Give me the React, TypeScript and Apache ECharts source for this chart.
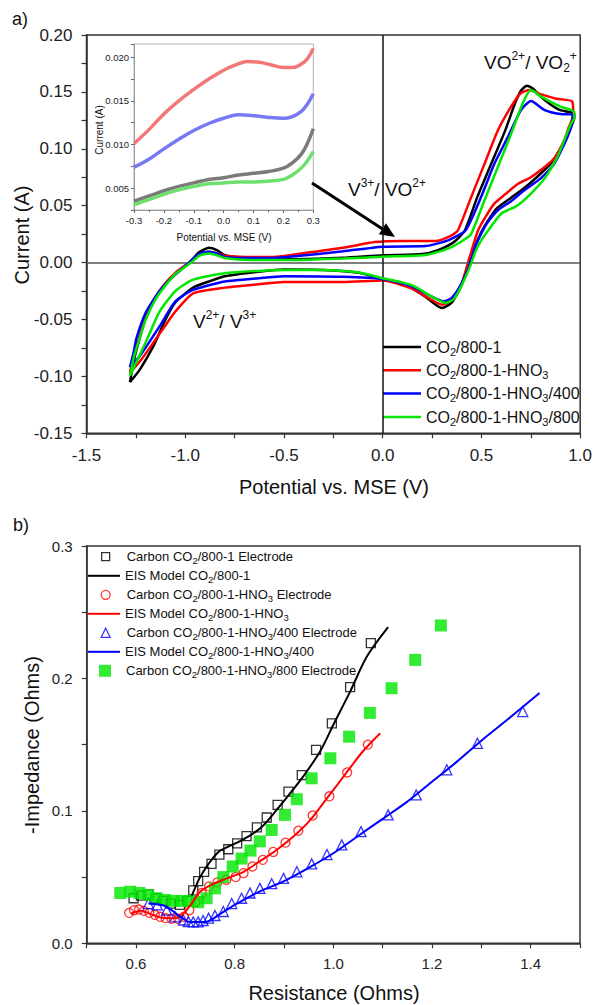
import React, { useEffect, useRef } from "react";
import * as echarts from "echarts";

const FONT = "'Liberation Sans', Arial, Helvetica, sans-serif";

// ---------- (a) cyclic voltammetry loops: [potential V, current A] ----------
const cvNames = ["CO2/800-1", "CO2/800-1-HNO3", "CO2/800-1-HNO3/400", "CO2/800-1-HNO3/800"];
const cvColors = ["#000000", "#ff0000", "#0000ff", "#00e600"];

const cvBlack = [
  [-1.28, -0.105], [-1.26, -0.086], [-1.23, -0.066], [-1.2, -0.049], [-1.15, -0.031], [-1.1, -0.019], [-1.05, -0.01],
  [-0.98, 0.0], [-0.93, 0.009], [-0.88, 0.013], [-0.84, 0.011], [-0.8, 0.0065], [-0.72, 0.0045], [-0.6, 0.0035],
  [-0.43, 0.003], [-0.2, 0.0042], [0.0, 0.0064], [0.2, 0.0075], [0.28, 0.011], [0.36, 0.018], [0.415, 0.028],
  [0.48, 0.058], [0.55, 0.087], [0.62, 0.116], [0.67, 0.14], [0.7, 0.151], [0.73, 0.1555], [0.76, 0.153],
  [0.8, 0.146], [0.85, 0.139], [0.9, 0.134], [0.97, 0.131],
  [0.97, 0.127], [0.95, 0.118], [0.9, 0.1], [0.85, 0.087], [0.78, 0.075], [0.72, 0.066], [0.65, 0.057],
  [0.58, 0.048], [0.53, 0.036], [0.5, 0.027], [0.47, 0.015], [0.436, 0.0], [0.4, -0.0195], [0.35, -0.035],
  [0.3, -0.04], [0.26, -0.036], [0.216, -0.03], [0.115, -0.0195], [0.0, -0.0145], [-0.12, -0.009], [-0.3, -0.0064],
  [-0.5, -0.006], [-0.63, -0.008], [-0.8, -0.012], [-0.88, -0.0166], [-0.96, -0.022], [-1.05, -0.035],
  [-1.1, -0.05], [-1.16, -0.073], [-1.23, -0.094], [-1.28, -0.105],
];
const cvRed = [
  [-1.28, -0.097], [-1.26, -0.08], [-1.23, -0.064], [-1.2, -0.046], [-1.15, -0.03], [-1.1, -0.018], [-1.05, -0.009],
  [-0.98, 0.0], [-0.93, 0.007], [-0.88, 0.0095], [-0.84, 0.008], [-0.8, 0.006], [-0.7, 0.005], [-0.55, 0.005],
  [-0.43, 0.0076], [-0.2, 0.013], [-0.04, 0.018], [0.1, 0.019], [0.267, 0.019], [0.35, 0.024], [0.381, 0.0284],
  [0.449, 0.058], [0.516, 0.087], [0.583, 0.116], [0.65, 0.137], [0.7, 0.149], [0.743, 0.1516], [0.8, 0.148],
  [0.88, 0.144], [0.96, 0.1416],
  [0.965, 0.13], [0.94, 0.118], [0.92, 0.1076], [0.87, 0.092], [0.82, 0.084], [0.75, 0.075], [0.684, 0.069],
  [0.62, 0.06], [0.566, 0.052], [0.52, 0.04], [0.482, 0.028], [0.432, 0.0], [0.4, -0.018], [0.35, -0.033],
  [0.3, -0.037], [0.25, -0.033], [0.15, -0.023], [0.0, -0.0157], [-0.2, -0.017], [-0.5, -0.017], [-0.63, -0.019],
  [-0.8, -0.022], [-0.96, -0.027], [-1.05, -0.043], [-1.1, -0.055], [-1.16, -0.07], [-1.23, -0.087], [-1.28, -0.097],
];
const cvBlue = [
  [-1.28, -0.092], [-1.26, -0.078], [-1.248, -0.067], [-1.2, -0.044], [-1.13, -0.025], [-1.06, -0.012],
  [-0.98, 0.0], [-0.93, 0.0075], [-0.88, 0.0096], [-0.84, 0.008], [-0.8, 0.005], [-0.7, 0.004], [-0.55, 0.004],
  [-0.43, 0.0058], [-0.2, 0.01], [0.0, 0.014], [0.216, 0.0145], [0.334, 0.0198], [0.42, 0.0285], [0.499, 0.058],
  [0.566, 0.087], [0.633, 0.11], [0.7, 0.134], [0.751, 0.142], [0.82, 0.134], [0.9, 0.1305], [0.962, 0.13],
  [0.962, 0.126], [0.936, 0.1105], [0.869, 0.087], [0.8, 0.074], [0.717, 0.0636], [0.65, 0.054], [0.583, 0.046],
  [0.53, 0.035], [0.499, 0.0255], [0.47, 0.015], [0.444, 0.0], [0.4, -0.018], [0.35, -0.031], [0.31, -0.034],
  [0.25, -0.03], [0.15, -0.021], [0.0, -0.0145], [-0.2, -0.0125], [-0.5, -0.012], [-0.63, -0.0137],
  [-0.8, -0.0166], [-0.96, -0.024], [-1.05, -0.034], [-1.13, -0.056], [-1.23, -0.082], [-1.28, -0.092],
];
const cvGreen = [
  [-1.28, -0.0995], [-1.26, -0.083], [-1.23, -0.066], [-1.2, -0.05], [-1.15, -0.032], [-1.1, -0.02], [-1.05, -0.01],
  [-0.97, 0.0], [-0.93, 0.006], [-0.88, 0.008], [-0.84, 0.0065], [-0.8, 0.004], [-0.7, 0.0025], [-0.55, 0.0023],
  [-0.43, 0.0023], [-0.2, 0.0035], [0.0, 0.0052], [0.216, 0.0067], [0.334, 0.0125], [0.42, 0.021], [0.449, 0.0255],
  [0.516, 0.055], [0.583, 0.084], [0.65, 0.113], [0.709, 0.14], [0.751, 0.1516], [0.8, 0.146], [0.9, 0.137],
  [0.97, 0.1325],
  [0.97, 0.127], [0.953, 0.122], [0.885, 0.093], [0.82, 0.074], [0.751, 0.0607], [0.68, 0.05], [0.6, 0.043],
  [0.55, 0.032], [0.499, 0.0196], [0.47, 0.01], [0.45, 0.0], [0.4, -0.02], [0.36, -0.032], [0.32, -0.0355],
  [0.26, -0.031], [0.15, -0.02], [0.0, -0.0137], [-0.12, -0.0087], [-0.3, -0.0064], [-0.5, -0.0064],
  [-0.63, -0.0073], [-0.8, -0.0093], [-0.96, -0.015], [-1.05, -0.025], [-1.13, -0.043], [-1.2, -0.07], [-1.28, -0.0995],
];

// ---------- (a) inset ----------
const insetColors = ["#7a7a7a", "#f27878", "#7878f2", "#6fe06f"];
const insetBlack = [
  [-0.3, 0.0035], [-0.25, 0.0041], [-0.2, 0.0047], [-0.15, 0.0052], [-0.1, 0.0056], [-0.05, 0.006], [0.0, 0.0062],
  [0.05, 0.0065], [0.1, 0.0067], [0.15, 0.0069], [0.2, 0.0073], [0.23, 0.0079], [0.26, 0.0089], [0.28, 0.0101], [0.3, 0.0118],
];
const insetRed = [
  [-0.3, 0.0101], [-0.25, 0.0117], [-0.2, 0.0135], [-0.15, 0.015], [-0.1, 0.0163], [-0.05, 0.0175], [-0.03, 0.0179],
  [0.0, 0.0185], [0.04, 0.0191], [0.08, 0.0195], [0.12, 0.0194], [0.16, 0.0191], [0.2, 0.0188], [0.23, 0.0188],
  [0.26, 0.0192], [0.28, 0.0198], [0.3, 0.021],
];
const insetBlue = [
  [-0.3, 0.0074], [-0.25, 0.0083], [-0.2, 0.0095], [-0.15, 0.0106], [-0.1, 0.0116], [-0.05, 0.0124], [0.0, 0.013],
  [0.05, 0.0134], [0.1, 0.0133], [0.15, 0.0131], [0.2, 0.013], [0.23, 0.0132], [0.26, 0.0138], [0.28, 0.0146], [0.3, 0.0158],
];
const insetGreen = [
  [-0.3, 0.0031], [-0.25, 0.0037], [-0.2, 0.0043], [-0.15, 0.0048], [-0.1, 0.0052], [-0.05, 0.0055], [0.0, 0.0056],
  [0.05, 0.0057], [0.1, 0.0057], [0.15, 0.0058], [0.2, 0.006], [0.23, 0.0065], [0.26, 0.0073], [0.28, 0.0081], [0.3, 0.0092],
];

// ---------- (b) EIS: [resistance, -impedance] ----------
const eisNames = [
  "Carbon CO2/800-1 Electrode",
  "EIS Model CO2/800-1",
  "Carbon CO2/800-1-HNO3 Electrode",
  "EIS Model CO2/800-1-HNO3",
  "Carbon CO2/800-1-HNO3/400 Electrode",
  "EIS Model CO2/800-1-HNO3/400",
  "Carbon CO2/800-1-HNO3/800 Electrode",
];
const eisBlackPts = [
  [0.595, 0.034], [0.61, 0.036], [0.625, 0.037], [0.64, 0.034], [0.655, 0.032], [0.67, 0.03], [0.689, 0.029],
  [0.704, 0.032], [0.716, 0.04], [0.726, 0.047], [0.738, 0.054], [0.753, 0.06], [0.769, 0.067], [0.787, 0.071],
  [0.805, 0.0755], [0.824, 0.081], [0.845, 0.0876], [0.865, 0.095], [0.887, 0.1045], [0.909, 0.1146], [0.936, 0.127],
  [0.965, 0.146], [0.997, 0.166], [1.034, 0.1934], [1.076, 0.2266],
];
const eisBlackModel = [
  [0.713, 0.036], [0.72, 0.042], [0.73, 0.05], [0.747, 0.06], [0.767, 0.069], [0.787, 0.073], [0.81, 0.077],
  [0.834, 0.082], [0.858, 0.089], [0.885, 0.1007], [0.912, 0.113], [0.939, 0.126], [0.973, 0.1448], [1.0, 0.165],
  [1.034, 0.19], [1.068, 0.2165], [1.111, 0.2387],
];
const eisRedPts = [
  [0.586, 0.023], [0.596, 0.025], [0.606, 0.0255], [0.616, 0.0245], [0.627, 0.023], [0.638, 0.0215], [0.649, 0.02],
  [0.66, 0.019], [0.672, 0.0185], [0.685, 0.0185], [0.697, 0.02], [0.708, 0.025], [0.72, 0.031], [0.733, 0.038],
  [0.748, 0.043], [0.765, 0.046], [0.783, 0.048], [0.802, 0.05], [0.818, 0.053], [0.836, 0.058], [0.857, 0.063],
  [0.878, 0.069], [0.903, 0.076], [0.929, 0.085], [0.958, 0.0965], [0.992, 0.111], [1.028, 0.129], [1.07, 0.15],
];
const eisRedModel = [
  [0.59, 0.0225], [0.61, 0.0245], [0.63, 0.022], [0.65, 0.0195], [0.669, 0.019], [0.689, 0.02], [0.709, 0.028],
  [0.73, 0.039], [0.757, 0.045], [0.784, 0.049], [0.818, 0.054], [0.851, 0.062], [0.885, 0.0705], [0.919, 0.0806],
  [0.953, 0.093], [0.988, 0.11], [1.027, 0.129], [1.06, 0.145], [1.095, 0.1586],
];
const eisBluePts = [
  [0.625, 0.03], [0.643, 0.029], [0.662, 0.025], [0.679, 0.02], [0.696, 0.0176], [0.706, 0.0164], [0.716, 0.0162],
  [0.726, 0.0162], [0.736, 0.0172], [0.747, 0.019], [0.76, 0.021], [0.777, 0.024], [0.794, 0.03], [0.814, 0.034],
  [0.831, 0.038], [0.851, 0.0415], [0.875, 0.045], [0.899, 0.049], [0.926, 0.054], [0.956, 0.06], [0.987, 0.067],
  [1.017, 0.0743], [1.056, 0.0843], [1.111, 0.097], [1.168, 0.112], [1.23, 0.131], [1.292, 0.151], [1.384, 0.175],
];
const eisBlueModel = [
  [0.625, 0.03], [0.66, 0.028], [0.69, 0.02], [0.71, 0.016], [0.74, 0.016], [0.77, 0.022], [0.8, 0.029],
  [0.85, 0.039], [0.9, 0.047], [0.95, 0.057], [1.0, 0.068], [1.05, 0.081], [1.1, 0.094], [1.15, 0.107],
  [1.2, 0.122], [1.25, 0.137], [1.3, 0.153], [1.35, 0.168], [1.418, 0.189],
];
const eisGreenPts = [
  [0.568, 0.038], [0.588, 0.039], [0.607, 0.038], [0.625, 0.0365], [0.642, 0.034], [0.659, 0.0327], [0.676, 0.032],
  [0.693, 0.032], [0.709, 0.032], [0.726, 0.031], [0.743, 0.034], [0.76, 0.0415], [0.777, 0.05], [0.796, 0.058],
  [0.814, 0.064], [0.832, 0.07], [0.851, 0.077], [0.875, 0.0856], [0.902, 0.097], [0.926, 0.1088], [0.956, 0.1246],
  [0.994, 0.1397], [1.032, 0.156], [1.074, 0.174], [1.118, 0.1926], [1.166, 0.214], [1.218, 0.24],
];

const chem = (s: string) => s.replace(/CO2/g, "CO{sub|2}").replace(/HNO3/g, "HNO{sub|3}");

const ICON_SQUARE = "path://M0,0 L10,0 L10,10 L0,10 Z";
const ICON_CIRCLE = "path://M5,0 A5,5 0 1,1 5,10 A5,5 0 1,1 5,0 Z";
const ICON_TRIANGLE = "path://M5,0 L10,10 L0,10 Z";

function axisCommon(fontSize: number, color = "#333") {
  return {
    axisLine: { show: true, onZero: false, lineStyle: { color, width: 1.5 } },
    axisTick: { show: true, inside: false, length: 5, lineStyle: { color, width: 1.2 } },
    splitLine: { show: false },
    minorSplitLine: { show: false },
    axisLabel: { fontSize, color: "#222", fontFamily: FONT, margin: 14 },
  };
}

export default function App() {
  const ref = useRef<HTMLDivElement>(null);
  useEffect(() => {
    if (!ref.current) return;
    const chart = echarts.init(ref.current, null, { renderer: "svg" });

    const cvData = [cvBlack, cvRed, cvBlue, cvGreen];
    const insetData = [insetBlack, insetRed, insetBlue, insetGreen];

    const series: any[] = [];
    cvData.forEach((d, k) => {
      const s: any = {
        name: cvNames[k],
        type: "line",
        xAxisIndex: 0,
        yAxisIndex: 0,
        data: d,
        showSymbol: false,
        symbol: "none",
        smooth: 0.2,
        lineStyle: { color: cvColors[k], width: 2.5 },
        itemStyle: { color: cvColors[k] },
        z: 3 + k,
      };
      if (k === 0) {
        s.markLine = {
          silent: true,
          symbol: ["none", "none"],
          label: { show: false },
          animation: false,
          data: [
            { yAxis: 0, lineStyle: { color: "#555", width: 1.5, type: "solid" } },
            { xAxis: 0, lineStyle: { color: "#111", width: 1.5, type: "solid" } },
          ],
        };
      }
      series.push(s);
    });
    insetData.forEach((d, k) => {
      series.push({
        name: "inset " + cvNames[k],
        type: "line",
        xAxisIndex: 1,
        yAxisIndex: 1,
        data: d,
        showSymbol: false,
        symbol: "none",
        smooth: 0.4,
        lineStyle: { color: insetColors[k], width: 3.5 },
        itemStyle: { color: insetColors[k] },
      });
    });

    const scatter = (name: string, data: number[][], symbol: string, size: number, color: string, filled: boolean) => ({
      name,
      type: "scatter",
      xAxisIndex: 2,
      yAxisIndex: 2,
      data,
      symbol,
      symbolSize: size,
      itemStyle: filled
        ? { color, borderWidth: 0 }
        : { color: "rgba(255,255,255,0)", borderColor: color, borderWidth: 1.3 },
    });
    const model = (name: string, data: number[][], color: string) => ({
      name,
      type: "line",
      xAxisIndex: 2,
      yAxisIndex: 2,
      data,
      showSymbol: false,
      symbol: "none",
      smooth: 0.3,
      lineStyle: { color, width: 2 },
      itemStyle: { color },
    });
    series.push(scatter(eisNames[0], eisBlackPts, "rect", 9, "#000000", false));
    series.push(model(eisNames[1], eisBlackModel, "#000000"));
    series.push(scatter(eisNames[2], eisRedPts, "circle", 9, "#ff0000", false));
    series.push(model(eisNames[3], eisRedModel, "#ff0000"));
    series.push(scatter(eisNames[4], eisBluePts, "triangle", 10, "#0000ff", false));
    series.push(model(eisNames[5], eisBlueModel, "#0000ff"));
    series.push(scatter(eisNames[6], eisGreenPts, "rect", 12, "#00e600", true));

    const legends: any[] = [];
    const topRows = [347, 370.3, 393.6, 417];
    cvNames.forEach((n, k) => {
      legends.push({
        data: [{ name: n, icon: "rect" }],
        left: 383,
        top: topRows[k] - 10,
        orient: "vertical",
        padding: 0,
        itemWidth: 38,
        itemHeight: 2.5,
        selectedMode: false,
        itemStyle: { color: cvColors[k], borderWidth: 0 },
        formatter: (name: string) => chem(name),
        textStyle: {
          fontSize: 16,
          lineHeight: 20,
          color: "#111",
          fontFamily: FONT,
          rich: { sub: { fontSize: 11, verticalAlign: "bottom", fontFamily: FONT, color: "#111" } },
        },
      });
    });

    const botRows = [556.7, 575.8, 594.8, 613.8, 632.8, 651.8, 670.8];
    const botLegend = [
      { icon: ICON_SQUARE, h: 8, path: true, style: { color: "rgba(255,255,255,0)", borderColor: "#000", borderWidth: 1.3 } },
      { icon: "rect", h: 2, path: false, style: { color: "#000", borderWidth: 0 } },
      { icon: ICON_CIRCLE, h: 9, path: true, style: { color: "rgba(255,255,255,0)", borderColor: "#ff0000", borderWidth: 1.3 } },
      { icon: "rect", h: 2, path: false, style: { color: "#ff0000", borderWidth: 0 } },
      { icon: ICON_TRIANGLE, h: 9, path: true, style: { color: "rgba(255,255,255,0)", borderColor: "#0000ff", borderWidth: 1.3 } },
      { icon: "rect", h: 2, path: false, style: { color: "#0000ff", borderWidth: 0 } },
      { icon: ICON_SQUARE, h: 12, path: true, style: { color: "#00e600", borderWidth: 0 } },
    ];
    const BOT_LH = 17;
    eisNames.forEach((n, k) => {
      const b = botLegend[k];
      legends.push({
        data: [{ name: n, icon: b.icon }],
        left: b.path ? 105 - b.h / 2 : 88,
        top: botRows[k] - BOT_LH / 2,
        orient: "vertical",
        padding: 0,
        itemWidth: 32,
        itemHeight: b.h,
        symbolKeepAspect: true,
        selectedMode: false,
        itemStyle: b.style,
        formatter: (name: string) => chem(name),
        textStyle: {
          fontSize: 13,
          lineHeight: BOT_LH,
          color: "#111",
          fontFamily: FONT,
          rich: { sub: { fontSize: 9.5, verticalAlign: "bottom", fontFamily: FONT, color: "#111" } },
        },
      });
    });

    const annRich = {
      sup: { fontSize: 12, lineHeight: 16, verticalAlign: "top", fontFamily: FONT, fill: "#111", color: "#111" },
      sub: { fontSize: 12, verticalAlign: "bottom", fontFamily: FONT, fill: "#111", color: "#111" },
    };
    const ann = (x: number, y: number, text: string) => ({
      type: "text",
      x,
      y,
      silent: true,
      style: {
        text,
        fontSize: 19,
        lineHeight: 24,
        fontFamily: FONT,
        fill: "#111",
        align: "left",
        verticalAlign: "middle",
        rich: annRich,
      },
    });
    const label = (x: number, y: number, text: string, fontSize: number, rot = 0) => ({
      type: "text",
      x,
      y,
      rotation: rot,
      silent: true,
      style: { text, fontSize, fontFamily: FONT, fill: "#111", align: "center", verticalAlign: "middle" },
    });

    // arrow geometry
    const ax1 = 312, ay1 = 183, tx = 395, ty = 237;
    const dx = tx - ax1, dy = ty - ay1, len = Math.hypot(dx, dy);
    const ux = dx / len, uy = dy / len;
    const hl = 15, hw = 6.5;
    const bx = tx - ux * hl, by = ty - uy * hl;

    const option: any = {
      animation: false,
      backgroundColor: "#ffffff",
      grid: [
        { left: 86.5, top: 35, width: 495.2, height: 398.3, show: true, borderColor: "#333", borderWidth: 1.5, backgroundColor: "transparent" },
        { left: 134, top: 44, width: 179.3, height: 166, show: true, borderColor: "#b5b5b5", borderWidth: 1, backgroundColor: "transparent" },
        { left: 86.7, top: 546, width: 493.3, height: 397.3, show: true, borderColor: "#333", borderWidth: 1.5, backgroundColor: "transparent" },
      ],
      xAxis: [
        {
          type: "value", gridIndex: 0, min: -1.5, max: 1.0, interval: 0.5,
          ...axisCommon(17),
          minorTick: { show: true, splitNumber: 2, length: 5, lineStyle: { color: "#333", width: 1.2 } },
          axisLabel: { fontSize: 17, color: "#222", fontFamily: FONT, margin: 14, formatter: (v: number) => (Math.abs(v) < 1e-9 ? "0.0" : v.toFixed(1)) },
        },
        {
          type: "value", gridIndex: 1, min: -0.3, max: 0.3, interval: 0.1,
          axisLine: { show: true, onZero: false, lineStyle: { color: "#999", width: 1 } },
          axisTick: { show: true, length: 3, lineStyle: { color: "#666", width: 1 } },
          minorTick: { show: true, splitNumber: 2, length: 2, lineStyle: { color: "#666", width: 1 } },
          splitLine: { show: false },
          axisLabel: { fontSize: 9.5, color: "#222", fontFamily: FONT, margin: 5, formatter: (v: number) => (Math.abs(v) < 1e-9 ? "0.0" : v.toFixed(1)) },
        },
        {
          type: "value", gridIndex: 2, min: 0.5, max: 1.5, interval: 0.1,
          ...axisCommon(15),
          axisLabel: {
            fontSize: 15, color: "#222", fontFamily: FONT, margin: 13,
            formatter: (v: number) => (Math.round(v * 10) % 2 === 0 ? v.toFixed(1) : ""),
          },
        },
      ],
      yAxis: [
        {
          type: "value", gridIndex: 0, min: -0.15, max: 0.2, interval: 0.05,
          ...axisCommon(17),
          minorTick: { show: true, splitNumber: 2, length: 5, lineStyle: { color: "#333", width: 1.2 } },
          axisLabel: { fontSize: 17, color: "#222", fontFamily: FONT, margin: 14, formatter: (v: number) => (Math.abs(v) < 1e-9 ? "0.00" : v.toFixed(2)) },
        },
        {
          type: "value", gridIndex: 1, min: 0.0025, max: 0.0215, interval: 0.0025,
          axisLine: { show: true, onZero: false, lineStyle: { color: "#999", width: 1 } },
          axisTick: { show: true, length: 3, lineStyle: { color: "#666", width: 1 } },
          splitLine: { show: false },
          axisLabel: {
            fontSize: 9.5, color: "#222", fontFamily: FONT, margin: 5,
            formatter: (v: number) => (Math.round(v * 10000) % 50 === 0 ? v.toFixed(3) : ""),
          },
        },
        {
          type: "value", gridIndex: 2, min: 0, max: 0.3, interval: 0.05,
          ...axisCommon(15),
          axisLabel: {
            fontSize: 15, color: "#222", fontFamily: FONT, margin: 14,
            formatter: (v: number) => (Math.round(v * 100) % 10 === 0 ? v.toFixed(1) : ""),
          },
        },
      ],
      legend: legends,
      series,
      graphic: [
        label(20, 19, "a)", 18),
        label(21, 525, "b)", 18),
        label(22, 235, "Current (A)", 20, Math.PI / 2),
        label(334, 487, "Potential vs. MSE (V)", 20),
        label(99.5, 130, "Current (A)", 10, Math.PI / 2),
        label(224, 237.5, "Potential vs. MSE (V)", 10),
        label(32, 745, "-Impedance (Ohms)", 20, Math.PI / 2),
        label(334, 993, "Resistance (Ohms)", 20),
        ann(484, 62, "VO{sup|2+}/ VO{sub|2}{sup|+}"),
        ann(348, 189, "V{sup|3+}/ VO{sup|2+}"),
        ann(193, 321, "V{sup|2+}/ V{sup|3+}"),
        {
          type: "line",
          silent: true,
          shape: { x1: ax1, y1: ay1, x2: bx + ux * 2, y2: by + uy * 2 },
          style: { stroke: "#000", lineWidth: 3 },
        },
        {
          type: "polygon",
          silent: true,
          shape: {
            points: [
              [tx, ty],
              [bx - uy * hw, by + ux * hw],
              [bx + uy * hw, by - ux * hw],
            ],
          },
          style: { fill: "#000" },
        },
      ],
    };

    chart.setOption(option);
    return () => chart.dispose();
  }, []);

  return <div ref={ref} style={{ position: "absolute", left: 0, top: 0, width: 595, height: 1005 }} />;
}
